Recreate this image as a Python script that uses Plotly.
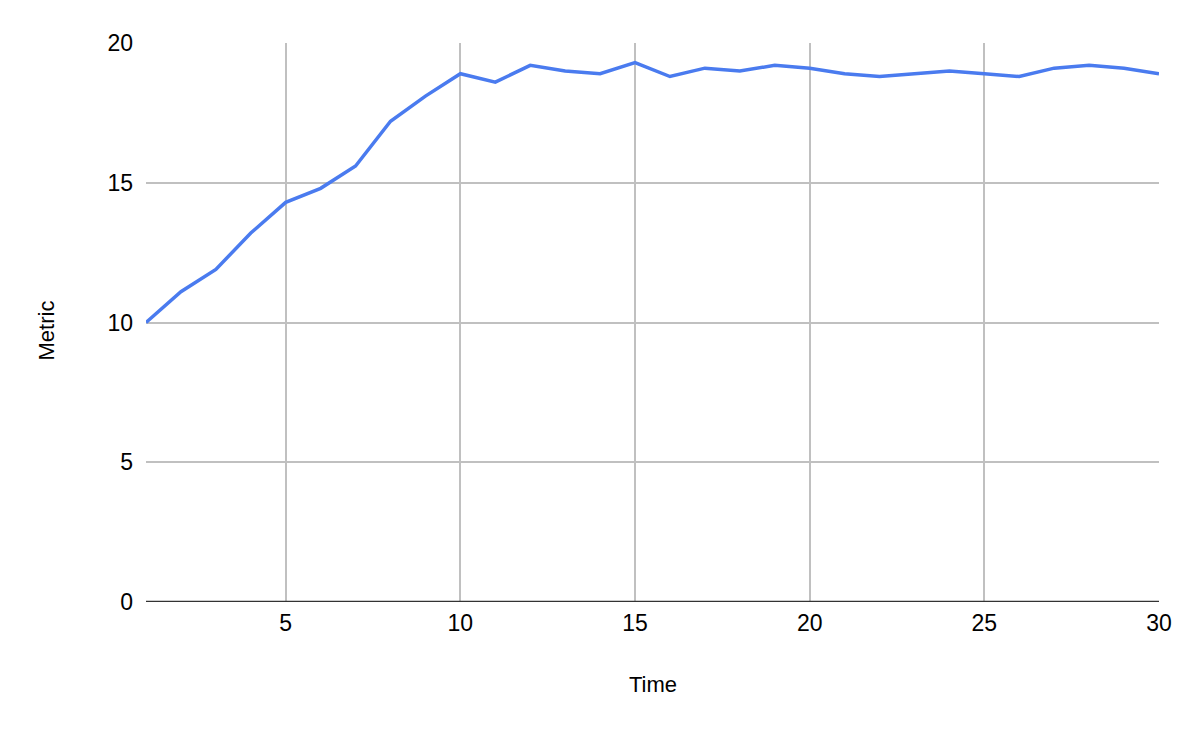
import plotly.graph_objects as go

time = list(range(1, 31))
metric = [10.0, 11.1, 11.9, 13.2, 14.3, 14.8, 15.6, 17.2, 18.1, 18.9,
          18.6, 19.2, 19.0, 18.9, 19.3, 18.8, 19.1, 19.0, 19.2, 19.1,
          18.9, 18.8, 18.9, 19.0, 18.9, 18.8, 19.1, 19.2, 19.1, 18.9]
x_ticks = [5, 10, 15, 20, 25, 30]
y_ticks = [0, 5, 10, 15, 20]

fig = go.Figure()
fig.add_trace(go.Scatter(x=time, y=metric, mode='lines',
                         line=dict(color='#4a7bef', width=3.5)))

# page body adds ~8px offset, so margins are shifted accordingly
fig.update_layout(
    width=1190, height=730,
    margin=dict(l=138, r=39, t=35, b=136),
    paper_bgcolor='white', plot_bgcolor='white',
    font=dict(family='Liberation Sans, Arial, sans-serif', size=23, color='#000'),
    showlegend=False,
    xaxis=dict(range=[1, 30], tickvals=x_ticks, showgrid=True,
               gridcolor='#c0c0c0', gridwidth=1.5, zeroline=False,
               showline=False, ticks='', ticklabelstandoff=5),
    yaxis=dict(range=[0, 20], tickvals=y_ticks, showgrid=True,
               gridcolor='#c0c0c0', gridwidth=1.5, zeroline=False,
               showline=False, ticks='', ticklabelstandoff=12),
)
# axis titles
fig.add_annotation(text='Time', xref='paper', yref='paper', x=0.5, y=0,
                   xanchor='center', yanchor='middle', yshift=-82,
                   showarrow=False, font=dict(size=22))
fig.add_annotation(text='Metric', xref='paper', yref='paper', x=0, y=0.5,
                   xanchor='center', yanchor='middle', xshift=-100, yshift=-8,
                   textangle=-90, showarrow=False, font=dict(size=22))
# dark baseline at zero
fig.add_shape(type='line', xref='paper', yref='y', x0=0, x1=1, y0=0, y1=0,
              line=dict(color='#333333', width=2.5))

fig.write_html("out.html")
